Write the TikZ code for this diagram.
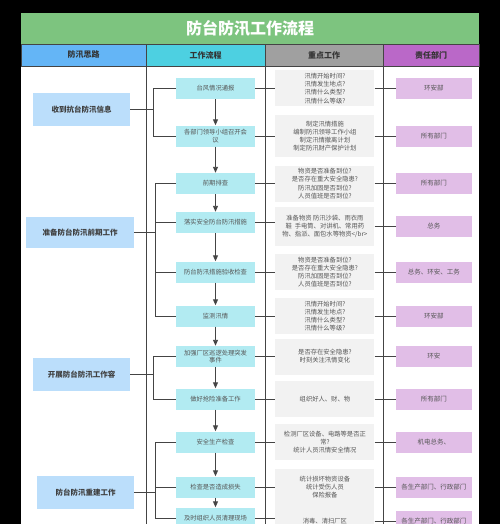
\documentclass[tikz,border=0pt]{standalone}
\usepackage{fontspec}
\setmainfont{Noto Sans CJK SC}
\usepackage{xcolor}
\definecolor{titlegreen}{HTML}{7DC47F}
\definecolor{headblue}{HTML}{64B5F6}
\definecolor{headcyan}{HTML}{4DD0E1}
\definecolor{headgray}{HTML}{A0A0A0}
\definecolor{headpurple}{HTML}{BA68C8}
\definecolor{ideablue}{HTML}{BBDEFB}
\definecolor{stepcyan}{HTML}{B2EBF2}
\definecolor{keygray}{HTML}{F2F2F2}
\definecolor{deptpurple}{HTML}{E1BEE7}
\definecolor{linegray}{HTML}{444444}
\definecolor{textgray}{HTML}{555555}
\usepackage{tikz}
\usetikzlibrary{arrows.meta,positioning,calc}

\begin{document}
\begin{tikzpicture}[
  x=1pt,y=-1pt,
  head/.style={draw=linegray,line width=0.6pt,minimum height=22pt,inner sep=0pt,text=black!80,font=\fontsize{8}{9}\selectfont\bfseries},
  idea/.style={fill=ideablue,minimum height=33pt,minimum width=97pt,inner sep=0pt,text=black!75,font=\fontsize{7.5}{9}\selectfont\bfseries},
  stepbox/.style={fill=stepcyan,minimum width=79pt,minimum height=21pt,inner sep=1pt,align=center,text=textgray,font=\fontsize{6.3}{7.6}\selectfont},
  keybox/.style={fill=keygray,minimum width=99pt,minimum height=36pt,inner sep=2pt,align=center,text=textgray,font=\fontsize{6.3}{8.2}\selectfont},
  dept/.style={fill=deptpurple,minimum width=76pt,minimum height=21pt,inner sep=1pt,text=textgray,font=\fontsize{6.5}{8}\selectfont},
  link/.style={draw=linegray,line width=0.9pt},
  flow/.style={link,-{Triangle[length=6pt,width=5pt]}}]
\clip (0,0) rectangle (500,524);
\fill[black] (0,0) rectangle (500,524);
\fill[white] (21,66) rectangle (479,524);
\node[fill=titlegreen,minimum width=458pt,minimum height=31pt,inner sep=0pt,text=white,font=\fontsize{16}{18}\selectfont\bfseries] (title) at (250,28.5) {防台防汛工作流程};
\node[head,fill=headblue,minimum width=125pt] (hd1) at (83.5,55) {防汛思路};
\node[head,fill=headcyan,minimum width=119pt] (hd2) at (205.5,55) {工作流程};
\node[head,fill=headgray,minimum width=118pt] (hd3) at (324,55) {重点工作};
\node[head,fill=headpurple,minimum width=96pt] (hd4) at (431,55) {责任部门};
\foreach \cx in {146,265,383}
  \draw[link] (\cx,66) -- (\cx,524);

% left column
\node[idea] (info) at (81.5,109.5) {收到抗台防汛信息};
\node[idea,minimum width=108pt,minimum height=31pt] (prep) at (80,232.5) {准备防台防汛前期工作};
\node[idea] (work) at (81.5,374.5) {开展防台防汛工作容};
\node[idea] (rebuild) at (85.5,492.5) {防台防汛重建工作};

% work flow
\node[stepbox] (s1) at (215.5,88.5) {台风情况通报};
\node[stepbox] (s2) at (215.5,136) {各部门领导小组召开会\\议};
\node[stepbox] (s3) at (215.5,183.5) {前期排查};
\node[stepbox] (s4) at (215.5,222.5) {落实安全防台防汛措施};
\node[stepbox] (s5) at (215.5,272) {防台防汛措施验收检查};
\node[stepbox] (s6) at (215.5,316) {监测汛情};
\node[stepbox] (s7) at (215.5,356.5) {加强厂区巡逻处理突发\\事件};
\node[stepbox] (s8) at (215.5,399) {做好抢险准备工作};
\node[stepbox] (s9) at (215.5,442) {安全生产检查};
\node[stepbox] (s10) at (215.5,487) {检查是否造成损失};
\node[stepbox] (s11) at (215.5,518) {及时组织人员清理现场};

% key points
\node[keybox,right=20pt of s1] (k1) {汛情开始时间?\\汛情发生地点?\\汛情什么类型?\\汛情什么等级?};
\node[keybox,right=20pt of s2,minimum height=42pt] (k2) {制定汛情措施\\编制防汛领导工作小组\\制定汛情撤离计划\\制定防汛财产保护计划};
\node[keybox,right=20pt of s3] (k3) {物资是否准备到位?\\是否存在重大安全隐患?\\防汛加固是否到位?\\人员值班是否到位?};
\node[keybox,right=20pt of s4,yshift=-4pt,minimum height=39pt] (k4) {准备物资 防汛沙袋、雨衣雨\\鞋\ \ 手电筒、对讲机、常用药\\物、指派、面包水等物资</br>};
\node[keybox,right=20pt of s5] (k5) {物资是否准备到位?\\是否存在重大安全隐患?\\防汛加固是否到位?\\人员值班是否到位?};
\node[keybox,right=20pt of s6] (k6) {汛情开始时间?\\汛情发生地点?\\汛情什么类型?\\汛情什么等级?};
\node[keybox,right=20pt of s7] (k7) {是否存在安全隐患?\\时刻关注汛情变化};
\node[keybox,right=20pt of s8] (k8) {组织好人、财、物};
\node[keybox,right=20pt of s9] (k9) {检测厂区设备、电路等是否正\\常?\\统计人员汛情安全情况};
\node[keybox,right=20pt of s10] (k10) {统计损坏物资设备\\统计受伤人员\\保险报备};
\node[keybox,right=20pt of s11,yshift=-3pt] (k11) {消毒、清扫厂区};

% departments
\node[dept,right=21pt of k1] (d1) {环安部};
\node[dept,right=21pt of k2] (d2) {所有部门};
\node[dept,right=21pt of k3] (d3) {所有部门};
\node[dept,right=21pt of k4] (d4) {总务};
\node[dept,right=21pt of k5] (d5) {总务、环安、工务};
\node[dept,right=21pt of k6] (d6) {环安部};
\node[dept,right=21pt of k7] (d7) {环安};
\node[dept,right=21pt of k8] (d8) {所有部门};
\node[dept,right=21pt of k9] (d9) {机电总务、};
\node[dept,right=21pt of k10] (d10) {各生产部门、行政部门};
\node[dept,right=21pt of k11] (d11) {各生产部门、行政部门};

% connectors
\foreach \i [evaluate=\i as \j using int(\i+1)] in {1,...,10}
  \draw[flow] (s\i) -- (s\j);
\foreach \i in {1,...,11} {
  \draw[link] (s\i.east) -- (s\i.east -| k\i.west);
  \draw[link] (k\i.east |- d\i) -- (d\i.west);
}
\foreach \idea/\first/\last/\bx in {info/1/2/153,prep/3/6/155,work/7/8/153,rebuild/9/11/155} {
  \coordinate (bus\idea) at (\bx,0);
  \draw[link] (s\first.west) -| (bus\idea |- s\last.west) -- (s\last.west);
  \draw[link] (\idea.east) -- (\idea.east -| bus\idea);
}
\foreach \i in {4,5}
  \draw[link] (s\i.west) -- (s\i.west -| busprep);
\draw[link] (s10.west) -- (s10.west -| busrebuild);
\end{tikzpicture}
\end{document}
